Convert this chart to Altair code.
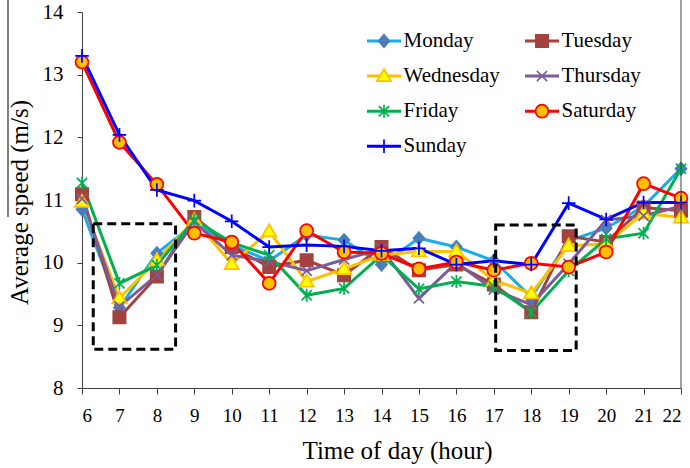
import altair as alt
import pandas as pd

SERIF = "Liberation Serif"

# Hour of day (x) and average speed per weekday (y, m/s)
hours = list(range(6, 23))
days = ["Monday", "Tuesday", "Wednesday", "Thursday", "Friday", "Saturday", "Sunday"]

monday = [10.85, 9.28, 10.15, 10.62, 10.28, 10.03, 10.44, 10.36, 9.97, 10.39, 10.25, 10.03, 9.45, 10.35, 10.55, 10.90, 11.50]
tuesday = [11.09, 9.13, 9.78, 10.73, 10.25, 9.93, 10.04, 9.80, 10.25, 9.88, 9.97, 9.65, 9.21, 10.42, 10.33, 10.88, 10.83]
wednesday = [10.97, 9.43, 10.04, 10.68, 9.98, 10.50, 9.70, 9.90, 10.12, 10.18, 10.18, 9.72, 9.51, 10.27, 10.30, 10.79, 10.72]
thursday = [11.02, 9.30, 9.80, 10.65, 10.12, 10.02, 9.87, 10.05, 10.22, 9.43, 10.00, 9.57, 9.33, 9.98, 10.68, 10.75, 10.90]
friday = [11.27, 9.67, 9.96, 10.68, 10.32, 10.12, 9.48, 9.59, 10.12, 9.58, 9.70, 9.62, 9.21, 9.87, 10.38, 10.47, 11.50]
saturday = [13.20, 11.92, 11.25, 10.47, 10.33, 9.67, 10.51, 10.17, 10.15, 9.90, 10.01, 9.88, 9.99, 9.93, 10.17, 11.26, 11.03]
sunday = [13.30, 12.04, 11.16, 10.99, 10.66, 10.25, 10.28, 10.26, 10.19, 10.23, 9.97, 10.03, 9.97, 10.95, 10.69, 10.96, 10.96]
series = [monday, tuesday, wednesday, thursday, friday, saturday, sunday]

# Styling per weekday
line_colors = ["#19AEE8", "#A3423E", "#FFC000", "#7B5C98", "#00B050", "#FF0000", "#0000FF"]
marker_fills = ["#4A7EBB", "#A3423E", "#FFFF00", "#7B5C98", "#00B050", "#FFC000", "#0000FF"]
marker_strokes = ["#4A7EBB", "#A3423E", "#FFC000", "#7B5C98", "#00B050", "#FF0000", "#0000FF"]
# marker outlines in unit coordinates (drawn at a large symbol size so the
# legend line and the legend marker share one layout)
marker_paths = [
    "M0,-0.36L0.32,0L0,0.36L-0.32,0Z",
    "M-0.36,-0.36L0.36,-0.36L0.36,0.36L-0.36,0.36Z",
    "M0,-0.42L0.42,0.3L-0.42,0.3Z",
    "M-0.3,-0.3L0.3,0.3M-0.3,0.3L0.3,-0.3",
    "M-0.3,-0.3L0.3,0.3M-0.3,0.3L0.3,-0.3M0,-0.38L0,0.38",
    "M0.38,0A0.38,0.38,0,1,1,-0.38,0A0.38,0.38,0,1,1,0.38,0Z",
    "M-0.4,0L0.4,0M0,-0.4L0,0.4",
]

# Dashed highlight boxes (hour range, speed range)
box_x0 = [6.3, 17.05]
box_x1 = [8.5, 19.2]
box_y0 = [8.62, 8.60]
box_y1 = [10.62, 10.60]

# marker keys carry a trailing space so the marker legend stays separate
# from the line legend; the label expression trims it again
marker_keys = [d + " " for d in days]

rows = []
for day, key, vals in zip(days, marker_keys, series):
    for h, v in zip(hours, vals):
        rows.append({"hour": h, "speed": v, "day": day, "marker": key})
df = pd.DataFrame(rows)
boxes_df = pd.DataFrame({"x0": box_x0, "x1": box_x1, "y0": box_y0, "y1": box_y1})
edge_df = pd.DataFrame({"edge": [hours[-1]]})

AXIS_COLOR = "#404040"
x_scale = alt.Scale(domain=[6, 22], nice=False, zero=False)
y_scale = alt.Scale(domain=[8, 14], nice=False, zero=False)

x_axis = alt.Axis(
    values=hours, format="d", grid=False, labelOverlap=False,
    labelFont=SERIF, labelFontSize=19, labelColor="black", labelPadding=12,
    tickSize=6, tickColor=AXIS_COLOR, domainColor=AXIS_COLOR,
    title="Time of day (hour)", titleFont=SERIF, titleFontSize=25,
    titleFontWeight="normal", titleColor="black",
    titleX=315, titleY=70, titleBaseline="alphabetic", titleAlign="center",
)
y_axis = alt.Axis(
    values=[8, 9, 10, 11, 12, 13, 14], format="d", grid=False, labelOverlap=False,
    labelFont=SERIF, labelFontSize=21, labelColor="black", labelPadding=14,
    tickSize=5, tickColor=AXIS_COLOR, domainColor=AXIS_COLOR,
    title="Average speed (m/s)", titleFont=SERIF, titleFontSize=25,
    titleFontWeight="normal", titleColor="black",
    titleX=-55, titleY=190, titleAngle=-90, titleBaseline="alphabetic", titleAlign="center",
)

SYMBOL_SIZE = 1156
LEGEND_X = 283.5
LEGEND_Y = 17

legend_lines = alt.Legend(
    title=None, orient="none", legendX=LEGEND_X, legendY=LEGEND_Y,
    direction="horizontal", columns=2,
    columnPadding=23, rowPadding=11.1, clipHeight=24, padding=0,
    symbolType="stroke", symbolSize=SYMBOL_SIZE, symbolStrokeWidth=3,
    labelFont=SERIF, labelFontSize=21, labelColor="black", labelOffset=1,
    zindex=0,
)
legend_markers = alt.Legend(
    title=None, orient="none", legendX=LEGEND_X, legendY=LEGEND_Y,
    direction="horizontal", columns=2,
    columnPadding=23, rowPadding=11.1, clipHeight=24, padding=0,
    symbolSize=SYMBOL_SIZE, symbolStrokeWidth=1.75, symbolOpacity=1, symbolOffset=0.5,
    labelFont=SERIF, labelFontSize=21, labelColor="transparent", labelOffset=2,
    labelExpr="trim(datum.label)",
    zindex=1,
)

X = alt.X("hour:Q", scale=x_scale, axis=x_axis)
Y = alt.Y("speed:Q", scale=y_scale, axis=y_axis)

lines = alt.Chart(df).mark_line(strokeWidth=3).encode(
    x=X,
    y=Y,
    color=alt.Color("day:N", scale=alt.Scale(domain=days, range=line_colors), legend=legend_lines),
)

points = alt.Chart(df).mark_point(filled=True, size=SYMBOL_SIZE, strokeWidth=1.75, opacity=1).encode(
    x=X,
    y=Y,
    shape=alt.Shape("marker:N", scale=alt.Scale(domain=marker_keys, range=marker_paths), legend=legend_markers),
    fill=alt.Fill("marker:N", scale=alt.Scale(domain=marker_keys, range=marker_fills), legend=legend_markers),
    stroke=alt.Stroke("marker:N", scale=alt.Scale(domain=marker_keys, range=marker_strokes), legend=legend_markers),
)

boxes = alt.Chart(boxes_df).mark_rect(
    fillOpacity=0, stroke="black", strokeWidth=3, strokeDash=[9, 5]
).encode(
    x=alt.X("x0:Q", scale=x_scale, axis=x_axis),
    x2="x1",
    y=alt.Y("y0:Q", scale=y_scale, axis=y_axis),
    y2="y1",
)

# right-hand frame line of the plot
frame = alt.Chart(edge_df).mark_rule(color=AXIS_COLOR, strokeWidth=1).encode(
    x=alt.X("edge:Q", scale=x_scale, axis=x_axis),
    y=alt.value(-12),
    y2=alt.value(376),
)

# thin rule at the far left edge of the figure, beside the y title
left_rule = alt.Chart(edge_df).mark_rule(color="black", strokeWidth=1).encode(
    x=alt.value(-74),
    y=alt.value(-12),
    y2=alt.value(205),
)

chart = alt.layer(lines, points, boxes, frame, left_rule).properties(
    width=599,
    height=376,
    autosize=alt.AutoSizeParams(type="none"),
    padding={"left": 82, "top": 12, "right": 9, "bottom": 80},
    background="white",
).configure_view(
    stroke=None
).configure_axis(
    labelFont=SERIF, titleFont=SERIF, titleFontWeight="normal", labelColor="black", titleColor="black"
).configure_legend(
    labelFont=SERIF
)

chart.save("out.html", embed_options={"renderer": "svg", "actions": False})
